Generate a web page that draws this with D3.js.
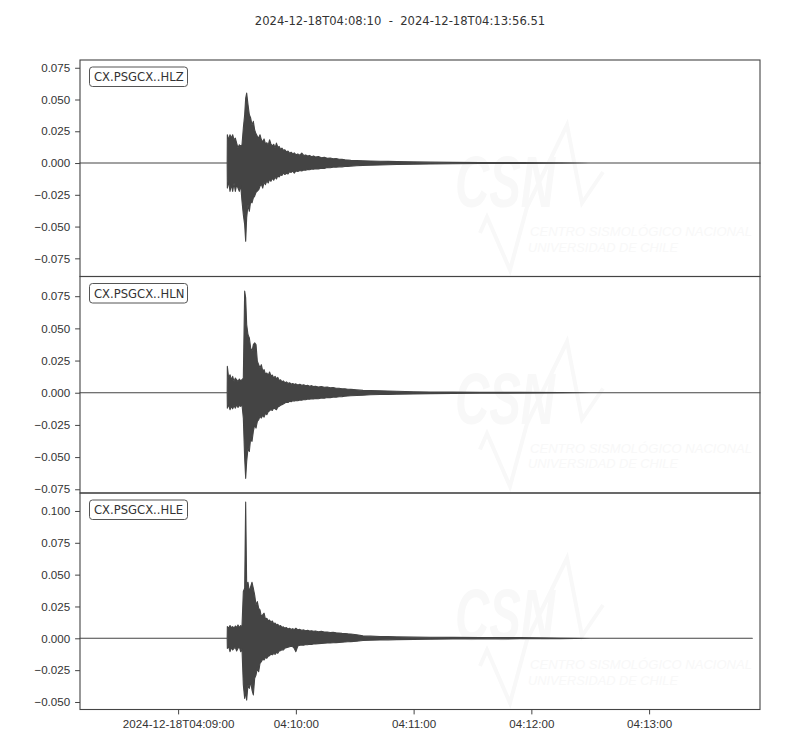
<!DOCTYPE html>
<html>
<head>
<meta charset="utf-8">
<script src="https://cdn.jsdelivr.net/npm/d3@7"></script>
<style>
  body { margin: 0; background: #fff; }
  svg { display: block; font-family: "DejaVu Sans", sans-serif; }
  .axis text { font-size: 11.6px; fill: #333; }
  .axis path { display: none; }
  .axis line { stroke: #444; stroke-width: 1; }
</style>
</head>
<body>
<script>
// window of the plot (utc)
const START = Date.UTC(2024, 11, 18, 4, 8, 10)
const END = START + 346510
const TITLE = '2024-12-18T04:08:10  -  2024-12-18T04:13:56.51'

const MARGINS = { top: 60, right: 40, bottom: 40.5, left: 80 }
const WIDTH = 800, HEIGHT = 750

// channels
const channels = ['CX.PSGCX..HLZ', 'CX.PSGCX..HLN', 'CX.PSGCX..HLE']
const traceEnd = [346.51, 346.51, 342.6]    // seconds after START
const onset = 75.0

// y limits per panel
const yLow = [-0.0893, -0.0779, -0.0559]
const yHigh = [0.0811, 0.0903, 0.1141]
const yTicks = [
  [-0.075, -0.05, -0.025, 0, 0.025, 0.05, 0.075],
  [-0.075, -0.05, -0.025, 0, 0.025, 0.05, 0.075],
  [-0.05, -0.025, 0, 0.025, 0.05, 0.075, 0.1]
]

// watermark lines
const markLines = ['CSN', 'CENTRO SISMOLÓGICO NACIONAL', 'UNIVERSIDAD DE CHILE']

// envelope of the records (max / min per time step), seconds after START
const envTime = [75.08, 75.76, 76.44, 77.12, 77.80, 78.48, 79.16, 79.83, 80.51, 81.19,
  81.87, 82.55, 83.23, 83.91, 84.42, 84.93, 85.61, 86.29, 86.97, 87.65,
  88.33, 89.01, 89.69, 90.37, 91.05, 91.72,
  92.4, 93.1, 93.8, 94.5, 95.2, 95.9, 96.6, 97.3, 98.0, 98.7,
  99.4, 100.1, 100.8, 101.5, 102.2, 102.9, 103.6, 104.4, 105.2, 106.0,
  106.8, 107.6, 108.4, 109.2, 110.0, 111.0, 112.0, 113.0, 114.0, 115.0,
  116.0, 117.0, 118.0, 119.0, 120.0, 121.5, 123.0, 124.5, 126.0, 127.5,
  129.0, 130.5, 132.0, 133.5, 135.0, 136.5, 138.0,
  141.0, 144.2, 148.0, 152.9, 157.0, 161.5, 170.0, 178.4, 190.0, 203.8,
  224.2, 244.6, 260.0]

const zMax = [0.0223, 0.0183, 0.0223, 0.0196, 0.0223, 0.0183, 0.0196, 0.0157, 0.0118, 0.0144,
  0.0131, 0.0144, 0.0275, 0.038, 0.051, 0.055, 0.046, 0.038, 0.0354, 0.030,
  0.0328, 0.026, 0.023, 0.021, 0.0196, 0.0223,
  0.0185, 0.0165, 0.0190, 0.0150, 0.0160, 0.0140, 0.0183, 0.0150, 0.0135, 0.0148,
  0.0120, 0.0157, 0.0125, 0.0131, 0.0108, 0.0118, 0.0100, 0.0105, 0.0088, 0.0095,
  0.0078, 0.0085, 0.0072, 0.0080, 0.0066, 0.0072, 0.0062, 0.0079, 0.0060, 0.0064,
  0.0055, 0.0060, 0.0050, 0.0056, 0.0048, 0.0052, 0.0042, 0.0046, 0.0037, 0.0040,
  0.0033, 0.0036, 0.0030, 0.0029, 0.0025, 0.0024, 0.0021,
  0.0020, 0.0018, 0.0016, 0.0014, 0.0013, 0.0011, 0.0009, 0.0007, 0.0005, 0.0004,
  0.0003, 0.0002, 0]
const zMin = [-0.0197, -0.0144, -0.0223, -0.017, -0.0223, -0.0157, -0.0223, -0.017, -0.0197, -0.0223,
  -0.017, -0.030, -0.0406, -0.0485, -0.0616, -0.043, -0.0328, -0.038, -0.030, -0.0314,
  -0.0275, -0.026, -0.023, -0.022, -0.021, -0.0183,
  -0.0165, -0.0197, -0.0150, -0.0170, -0.0140, -0.0157, -0.0128, -0.0144, -0.0120, -0.0135,
  -0.0112, -0.0125, -0.0100, -0.0110, -0.0092, -0.0098, -0.0079, -0.0090, -0.0080, -0.0086,
  -0.0068, -0.0074, -0.0064, -0.0079, -0.0062, -0.0066, -0.0058, -0.0062, -0.0054, -0.0057,
  -0.0050, -0.0053, -0.0046, -0.0049, -0.0044, -0.0046, -0.0040, -0.0042, -0.0035, -0.0037,
  -0.0032, -0.0033, -0.0030, -0.0030, -0.0027, -0.0026, -0.0024,
  -0.0021, -0.0018, -0.0017, -0.0015, -0.0013, -0.0012, -0.0009, -0.0007, -0.0006, -0.0004,
  -0.0003, -0.0002, 0]

const nMax = [0.0205, 0.0114, 0.014, 0.0101, 0.0127, 0.0088, 0.0114, 0.0101, 0.0088, 0.0106,
  0.0093, 0.0101, 0.0114, 0.079, 0.0737, 0.053, 0.045, 0.0426, 0.0348, 0.032,
  0.0374, 0.0387, 0.0374, 0.0244, 0.0218, 0.0192,
  0.0218, 0.0170, 0.0179, 0.0145, 0.0153, 0.0135, 0.0161, 0.0130, 0.0138, 0.0115,
  0.0127, 0.0108, 0.0119, 0.0095, 0.0101, 0.0085, 0.0092, 0.0078, 0.0084, 0.0072,
  0.0078, 0.0066, 0.0072, 0.0064, 0.0069, 0.0060, 0.0066, 0.0058, 0.0062, 0.0054,
  0.0058, 0.0051, 0.0055, 0.0048, 0.0051, 0.0045, 0.0048, 0.0042, 0.0044, 0.0039,
  0.0040, 0.0035, 0.0035, 0.0031, 0.0030, 0.0027, 0.0026,
  0.0022, 0.0018, 0.0017, 0.0015, 0.0013, 0.0011, 0.0008, 0.0006, 0.0005, 0.0004,
  0.0003, 0.0002, 0]
const nMin = [-0.012, -0.0093, -0.0132, -0.0106, -0.0125, -0.0099, -0.012, -0.0093, -0.0114, -0.0099,
  -0.0106, -0.0093, -0.0197, -0.051, -0.0665, -0.0535, -0.0431, -0.0457, -0.0353, -0.0379,
  -0.0301, -0.0249, -0.0275, -0.0223, -0.021, -0.0184,
  -0.0197, -0.0175, -0.0190, -0.0160, -0.0171, -0.0148, -0.0140, -0.0130, -0.0138, -0.0118,
  -0.0125, -0.0132, -0.0110, -0.0106, -0.0098, -0.0093, -0.0088, -0.0080, -0.0073, -0.0076,
  -0.0066, -0.0070, -0.0062, -0.0065, -0.0060, -0.0062, -0.0056, -0.0058, -0.0052, -0.0055,
  -0.0048, -0.0051, -0.0046, -0.0048, -0.0044, -0.0047, -0.0041, -0.0043, -0.0037, -0.0038,
  -0.0034, -0.0035, -0.0031, -0.0030, -0.0027, -0.0025, -0.0023,
  -0.0021, -0.0019, -0.0016, -0.0014, -0.0013, -0.0011, -0.0009, -0.0007, -0.0005, -0.0004,
  -0.0003, -0.0002, 0]

const eMax = [0.0092, 0.0079, 0.01, 0.0084, 0.0092, 0.0079, 0.0097, 0.0084, 0.0105, 0.0084,
  0.01, 0.0092, 0.0367, 0.0393, 0.107, 0.0419, 0.044, 0.0367, 0.0406, 0.044,
  0.0393, 0.034, 0.0262, 0.0288, 0.0236, 0.0223,
  0.0170, 0.0185, 0.0197, 0.0150, 0.0157, 0.0138, 0.0144, 0.0125, 0.0136, 0.0115,
  0.0120, 0.0105, 0.0110, 0.0095, 0.0100, 0.0086, 0.0090, 0.0080, 0.0084, 0.0074,
  0.0079, 0.0070, 0.0076, 0.0068, 0.0079, 0.0066, 0.0070, 0.0063, 0.0066, 0.0060,
  0.0063, 0.0057, 0.0060, 0.0055, 0.0058, 0.0052, 0.0055, 0.0049, 0.0050, 0.0046,
  0.0047, 0.0043, 0.0042, 0.0039, 0.0038, 0.0035, 0.0034,
  0.0028, 0.0019, 0.0017, 0.0014, 0.0013, 0.0011, 0.0009, 0.0008, 0.0007, 0.0006,
  0.0005, 0.0003, 0]
const eMin = [-0.0079, -0.0066, -0.0105, -0.0073, -0.0092, -0.0079, -0.0073, -0.01, -0.0079, -0.0066,
  -0.0105, -0.0084, -0.0367, -0.0472, -0.0419, -0.0485, -0.0367, -0.0393, -0.034, -0.0406,
  -0.0445, -0.0314, -0.0288, -0.0236, -0.0262, -0.0197,
  -0.0183, -0.0165, -0.0170, -0.0150, -0.0157, -0.0140, -0.0136, -0.0125, -0.0130, -0.0120,
  -0.0126, -0.0110, -0.0118, -0.0100, -0.0097, -0.0090, -0.0092, -0.0078, -0.0073, -0.0070,
  -0.0066, -0.0062, -0.0066, -0.0080, -0.0105, -0.0060, -0.0055, -0.0052, -0.0054, -0.0049,
  -0.0050, -0.0047, -0.0048, -0.0044, -0.0045, -0.0042, -0.0040, -0.0039, -0.0037, -0.0037,
  -0.0035, -0.0034, -0.0033, -0.0031, -0.0029, -0.0027, -0.0026,
  -0.0023, -0.0017, -0.0015, -0.0013, -0.0012, -0.0010, -0.0008, -0.0007, -0.0006, -0.0005,
  -0.0004, -0.0003, 0]

const envMax = [zMax, nMax, eMax]
const envMin = [zMin, nMin, eMin]

const TRACE_COLOR = '#444'
const MARK_COLOR = '#f8f8f8'

// svg
let svg = d3.select('body').append('svg')
  .attr('width', WIDTH)
  .attr('height', HEIGHT)

let plotW = WIDTH - MARGINS.left - MARGINS.right
let plotH = HEIGHT - MARGINS.top - MARGINS.bottom
let panelH = plotH / channels.length

let x = d3.scaleUtc()
  .domain([START, END])
  .range([MARGINS.left, MARGINS.left + plotW])

svg.append('text')
  .attr('x', WIDTH / 2)
  .attr('y', 24.5)
  .attr('text-anchor', 'middle')
  .style('font-size', '11.6px')
  .style('fill', '#333')
  .style('white-space', 'pre')
  .text(TITLE)

channels.forEach((name, i) => {
  let top = MARGINS.top + i * panelH
  let y = d3.scaleLinear()
    .domain([yLow[i], yHigh[i]])
    .range([top + panelH, top])

  let g = svg.append('g').attr('class', 'panel')

  // csn watermark (very faint)
  let wm = g.append('g')
    .attr('transform', 'translate(0,' + top + ')')
  wm.append('path')
    .attr('d', 'M480,173 L487,157 L510,210 L527,147 L567,65 L582,143 L603,112')
    .attr('fill', 'none')
    .attr('stroke', MARK_COLOR)
    .attr('stroke-width', 4)
  wm.append('text')
    .attr('x', 455).attr('y', 147)
    .attr('textLength', 100)
    .attr('lengthAdjust', 'spacingAndGlyphs')
    .style('font-family', '"Liberation Sans Narrow", "Liberation Sans", sans-serif')
    .style('font-weight', 'bold')
    .style('font-style', 'italic')
    .style('font-size', '72px')
    .style('fill', MARK_COLOR)
    .text(markLines[0])
  wm.append('text')
    .attr('x', 530).attr('y', 176)
    .attr('textLength', 222)
    .attr('lengthAdjust', 'spacingAndGlyphs')
    .style('font-family', '"Liberation Sans Narrow", "Liberation Sans", sans-serif')
    .style('font-style', 'italic')
    .style('font-size', '13px')
    .style('fill', MARK_COLOR)
    .text(markLines[1])
  wm.append('text')
    .attr('x', 528).attr('y', 191.5)
    .attr('textLength', 150)
    .attr('lengthAdjust', 'spacingAndGlyphs')
    .style('font-family', '"Liberation Sans Narrow", "Liberation Sans", sans-serif')
    .style('font-style', 'italic')
    .style('font-size', '13px')
    .style('fill', MARK_COLOR)
    .text(markLines[2])

  // record: flat before onset, envelope, flat tail to the end of the trace
  let pts = [{ t: 0, hi: 0, lo: 0 }, { t: onset, hi: 0, lo: 0 }]
  envTime.forEach((t, k) => pts.push({ t: t, hi: envMax[i][k], lo: envMin[i][k] }))
  pts.push({ t: traceEnd[i], hi: 0, lo: 0 })

  let area = d3.area()
    .x((d) => x(START + d.t * 1000))
    .y0((d) => y(d.lo))
    .y1((d) => y(d.hi))

  g.append('path')
    .datum(pts)
    .attr('d', area)
    .attr('fill', TRACE_COLOR)
    .attr('stroke', TRACE_COLOR)
    .attr('stroke-width', 1.1)
    .attr('stroke-linejoin', 'round')

  // y axis
  g.append('g')
    .attr('class', 'axis')
    .attr('transform', 'translate(' + MARGINS.left + ',0)')
    .call(d3.axisLeft(y)
      .tickValues(yTicks[i])
      .tickFormat(d3.format('.3f'))
      .tickSize(4.9)
      .tickPadding(4.9))

  // frame
  g.append('rect')
    .attr('x', MARGINS.left)
    .attr('y', top)
    .attr('width', plotW)
    .attr('height', panelH)
    .attr('fill', 'none')
    .attr('stroke', '#444')
    .attr('stroke-width', 1.1)

  // station label
  let lab = g.append('g')
    .attr('transform', 'translate(' + (MARGINS.left + 9.5) + ',' + (top + 7) + ')')
  lab.append('rect')
    .attr('width', 98)
    .attr('height', 19.5)
    .attr('rx', 3)
    .attr('fill', '#fff')
    .attr('stroke', '#555')
    .attr('stroke-width', 1)
  lab.append('text')
    .attr('x', 4.5)
    .attr('y', 14)
    .style('font-size', '11.6px')
    .style('fill', '#333')
    .text(name)

  // time axis on the last panel
  if (i === channels.length - 1) {
    let first = d3.utcFormat('%Y-%m-%dT%H:%M:%S')
    let rest = d3.utcFormat('%H:%M:%S')
    g.append('g')
      .attr('class', 'axis')
      .attr('transform', 'translate(0,' + (top + panelH) + ')')
      .call(d3.axisBottom(x)
        .ticks(d3.utcMinute.every(1))
        .tickFormat((d, k) => k === 0 ? first(d) : rest(d))
        .tickSize(4.9)
        .tickPadding(4.9))
  }
})
</script>
</body>
</html>
